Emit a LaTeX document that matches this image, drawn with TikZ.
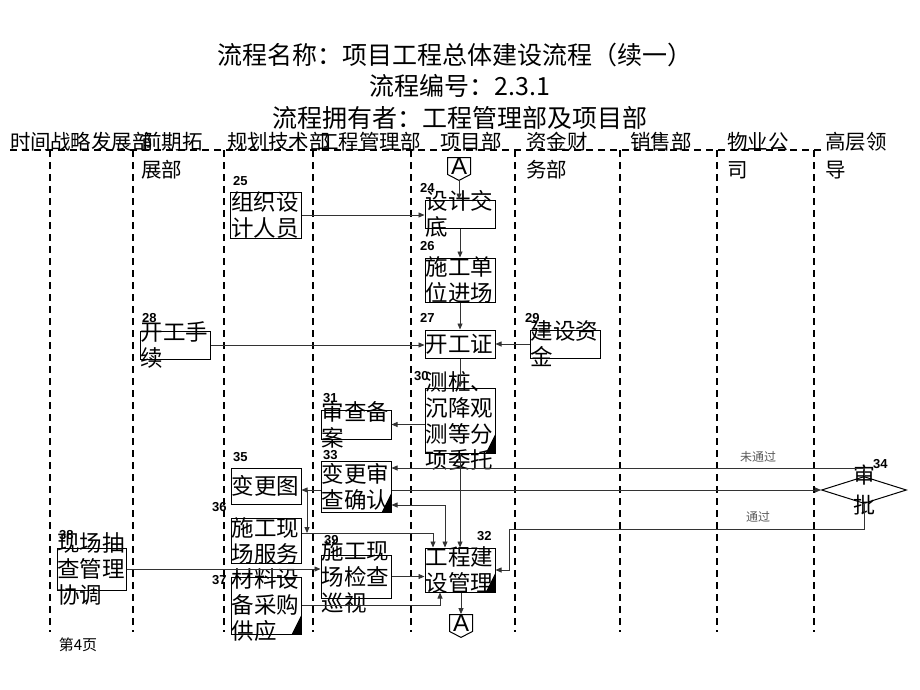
\documentclass[tikz,border=0pt]{standalone}
\usepackage{fontspec}
\setmainfont{Noto Sans CJK SC}
\newfontfamily\numfont{Liberation Sans}
\usetikzlibrary{arrows.meta,shapes.geometric,shapes.symbols}

\tikzset{
	lane/.style={dashed, dash pattern=on 7pt off 5pt, line width=1.1pt},
	box/.style={draw, line width=1pt, inner sep=0pt, minimum width=70pt},
	boxtext/.style={inner sep=0pt, text width=69pt, align=left, font=\fontsize{22.5}{26}\selectfont},
	hdr/.style={anchor=north west, inner sep=0pt, align=left, font=\fontsize{20.5}{28}\selectfont},
	numlbl/.style={anchor=west, inner sep=0pt, font=\numfont\bfseries\fontsize{13}{13}\selectfont},
	flow/.style={draw=black!80, line width=0.8pt},
	offpage/.style={draw, line width=1pt, shape=signal, signal to=south, signal from=nowhere, signal pointer angle=125, minimum width=23pt, minimum height=21pt, inner sep=0pt, font=\numfont\fontsize{24}{24}\selectfont},
	notelbl/.style={inner sep=0pt, text=black!65, font=\fontsize{12}{12}\selectfont}
}

\begin{document}
\begin{tikzpicture}[x=1pt, y=-1pt, >={Triangle[length=6pt,width=5pt]}]
	
	\useasboundingbox (0,0) rectangle (920,690);
	
	% title
	\node[font=\fontsize{25}{25}\selectfont] (title1) at (455,55) {流程名称：项目工程总体建设流程（续一）};
	\node[font=\fontsize{25}{25}\selectfont] (title2) at (460,86) {流程编号：2.3.1};
	\node[font=\fontsize{25}{25}\selectfont] (title3) at (460,118) {流程拥有者：工程管理部及项目部};
	
	% lanes
	\draw [lane] (10,150) -- (823,150);
	\foreach \x in {50,133,224,313,411,515,620,717,814}
	\draw [lane] (\x,150) -- (\x,632);
	
	\node[hdr] (h0) at (10,132) {时间};
	\node[hdr] (h1) at (50,132) {战略发展部};
	\node[hdr] (h2) at (141,132) {前期拓\\展部};
	\node[hdr] (h3) at (227,132) {规划技术部};
	\node[hdr] (h4) at (318,132) {工程管理部};
	\node[hdr] (h5) at (440,132) {项目部};
	\node[hdr] (h6) at (526,132) {资金财\\务部};
	\node[hdr] (h7) at (630,132) {销售部};
	\node[hdr] (h8) at (727,132) {物业公\\司};
	\node[hdr] (h9) at (825,132) {高层领\\导};
	
	% boxes
	\node[box, minimum width=71pt, minimum height=46pt] (b25) at (265.5,215) {};
	\node[box, minimum height=28pt] (b24) at (460,214) {};
	\node[box, minimum height=44pt] (b26) at (460,280) {};
	\node[box, minimum height=28pt] (b27) at (460,344) {};
	\node[box, minimum height=28pt] (b28) at (175,345) {};
	\node[box, minimum height=28pt] (b29) at (565,344) {};
	\node[box, minimum height=65pt] (b30) at (460,420.5) {};
	\node[box, minimum height=29pt] (b31) at (356,424.5) {};
	\node[box, minimum height=51pt] (b33) at (356,486.5) {};
	\node[box, minimum height=36pt] (b35) at (266,486) {};
	\node[box, minimum height=45pt] (b36) at (266,540.5) {};
	\node[box, minimum height=57pt] (b37) at (266,605.5) {};
	\node[box, minimum height=43pt] (b39) at (356,576.5) {};
	\node[box, minimum height=44pt] (b32) at (460,570) {};
	\node[box, minimum width=69pt, minimum height=42pt] (b38) at (91.5,569) {};
	\node[draw, line width=1pt, diamond, minimum width=85pt, minimum height=27pt, inner sep=0pt] (d34) at (864,490) {};
	
	\foreach \b in {b30,b33,b37,b32}
	\fill (\b.south east) -- ++(0,-20) -- ++(-10,20) -- cycle;
	
	\node[offpage] (a1) at (459,166) {A};
	\node[offpage] (a2) at (461,623) {A};
	
	% box texts
	\node[boxtext] (t25) at (b25) {组织设\\计人员};
	\node[boxtext] (t24) at (b24) {设计交\\底};
	\node[boxtext] (t26) at (b26) {施工单\\位进场};
	\node[boxtext] (t27) at (b27) {开工证};
	\node[boxtext] (t28) at (b28) {开工手\\续};
	\node[boxtext] (t29) at (b29) {建设资\\金};
	\node[boxtext] (t30) at (b30) {测桩、\\沉降观\\测等分\\项委托};
	\node[boxtext] (t31) at (b31) {审查备\\案};
	\node[boxtext] (t33) at (b33) {变更审\\查确认};
	\node[boxtext] (t35) at (b35) {变更图};
	\node[boxtext] (t36) at (b36) {施工现\\场服务};
	\node[boxtext] (t37) at (b37) {材料设\\备采购\\供应};
	\node[boxtext] (t39) at (b39) {施工现\\场检查\\巡视};
	\node[boxtext] (t32) at (b32) {工程建\\设管理};
	\node[boxtext] (t38) at (b38) {现场抽\\查管理\\协调};
	\node[align=center, inner sep=0pt, font=\fontsize{22}{30}\selectfont] (t34) at (d34) {审\\批};
	
	% step numbers
	\node[numlbl] (n25) at (233,181) {25};
	\node[numlbl] (n24) at (420,188) {24};
	\node[numlbl] (n26) at (420,246) {26};
	\node[numlbl] (n27) at (420,318) {27};
	\node[numlbl] (n28) at (142,318) {28};
	\node[numlbl] (n29) at (525,318) {29};
	\node[numlbl] (n30) at (414,376) {30};
	\node[numlbl] (n31) at (323,398) {31};
	\node[numlbl] (n33) at (323,455) {33};
	\node[numlbl] (n35) at (233,457) {35};
	\node[numlbl] (n36) at (212,507) {36};
	\node[numlbl] (n37) at (212,580) {37};
	\node[numlbl] (n39) at (324,540) {39};
	\node[numlbl] (n32) at (477,536) {32};
	\node[numlbl] (n38) at (59,535) {38};
	\node[numlbl] (n34) at (873,464) {34};
	
	% connectors
	\draw [flow, ->] (a1.south) -- (a1.south |- b24.north);
	\draw [flow, ->] (b25.east) -- (b25.east -| b24.west);
	\draw [flow, ->] (b24.south) -- (b26.north);
	\draw [flow, ->] (b26.south) -- (b27.north);
	\draw [flow, ->] (b28.east) -- (b28.east -| b27.west);
	\draw [flow, ->] (b29.west) -- (b29.west -| b27.east);
	\draw [flow, ->] (b27.south) -- (b30.north);
	\draw [flow, ->] (b30.west |- b31.east) -- (b31.east);
	\draw [flow, ->] (b30.south) -- (b32.north);
	
	\coordinate (nopass) at (864,468);
	\draw [flow, ->] (d34.north) -- (nopass) -- (nopass -| b33.east);
	\node[notelbl] (l1) at (758,457) {未通过};
	\draw [flow, ->] (b33.east |- d34.west) -- (d34.west);
	\coordinate (pass) at (509,529);
	\draw [flow, ->] (d34.south) |- (pass) |- (b32.east);
	\node[notelbl] (l2) at (758,517) {通过};
	
	\coordinate (c33) at (445,505);
	\draw [flow, <->] (c33 -| b33.east) -- (c33) -- (c33 |- b32.north);
	\coordinate (c36) at (433,533);
	\draw [flow, ->] (c36 -| b36.east) -- (c36) -- (c36 |- b32.north);
	\coordinate (c35) at (307,490);
	\draw [flow, ->] (c35 -| b33.west) -- (c35 -| b35.east);
	\draw [flow, ->] (c35) -- (c35 |- c36);
	\draw [flow, ->] (b39.east) -- (b39.east -| b32.west);
	\coordinate (c37) at (440,605);
	\draw [flow, ->] (c37 -| b37.east) -- (c37) -- (c37 |- b32.south);
	\draw [flow, ->] (b38.east) -- (b38.east -| b39.west);
	\draw [flow, ->] (b32.south -| a2.north) -- (a2.north);
	
	\node[font=\fontsize{15}{15}\selectfont] (page) at (78,645) {第4页};
	
\end{tikzpicture}
\end{document}
